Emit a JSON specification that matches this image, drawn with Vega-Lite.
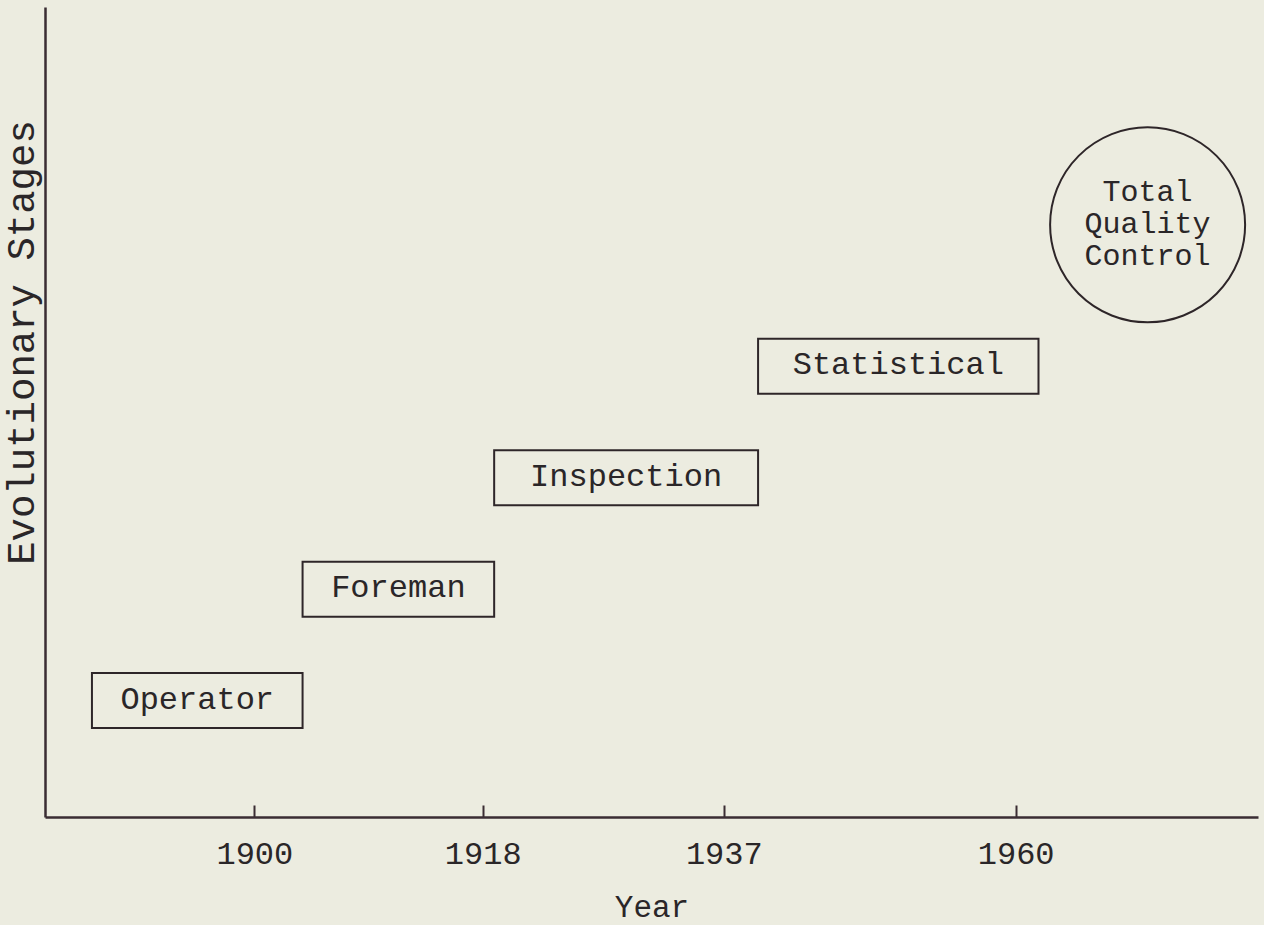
{
  "$schema": "https://vega.github.io/schema/vega-lite/v6.json",
  "width": 1213,
  "height": 810,
  "autosize": {"type": "none"},
  "padding": {"left": 45, "top": 7, "right": 6, "bottom": 108},
  "background": "#ecece0",
  "config": {
    "view": {"stroke": null},
    "font": "Liberation Mono",
    "axis": {"grid": false}
  },
  "data": {
    "values": [
      {"stage": "Operator", "start": 1887.2, "end": 1903.8, "mid": 1895.5, "level": 1},
      {"stage": "Foreman", "start": 1903.8, "end": 1918.9, "mid": 1911.35, "level": 2},
      {"stage": "Inspection", "start": 1918.9, "end": 1939.7, "mid": 1929.3, "level": 3},
      {"stage": "Statistical", "start": 1939.7, "end": 1961.8, "mid": 1950.75, "level": 4},
      {"stage": "Total Quality Control", "start": null, "end": null, "mid": 1970.4, "level": 5.27}
    ]
  },
  "layer": [
    {
      "transform": [{"filter": "isValid(datum.end)"}],
      "mark": {"type": "bar", "size": 55, "fill": "#ecece0", "stroke": "#2e2629", "strokeWidth": 2},
      "encoding": {
        "x": {
          "field": "start", "type": "quantitative", "title": "Year",
          "scale": {"domain": [1883.5, 1979.1], "nice": false, "zero": false},
          "axis": {
            "values": [1900, 1918, 1937, 1960], "format": "d",
            "domainColor": "#3a2d33", "domainWidth": 2.5,
            "tickColor": "#3a2d33", "tickWidth": 2, "tickSize": -12,
            "labelFont": "Liberation Mono", "labelFontSize": 32, "labelColor": "#2a2628",
            "labelPadding": 33, "labelFlush": false, "labelOverlap": false,
            "titleFont": "Liberation Mono", "titleFontSize": 31, "titleFontWeight": "normal",
            "titleColor": "#2a2628", "titleY": 75, "titleBaseline": "top"
          }
        },
        "x2": {"field": "end"},
        "y": {
          "field": "level", "type": "quantitative", "title": "Evolutionary Stages",
          "scale": {"domain": [0, 7.18], "nice": false, "zero": true},
          "axis": {
            "ticks": false, "labels": false,
            "domainColor": "#3a2d33", "domainWidth": 2.5,
            "titleFont": "Liberation Mono", "titleFontSize": 39, "titleFontWeight": "normal",
            "titleColor": "#2a2628", "titleAngle": -90, "titleX": -12, "titleY": 335,
            "titleAlign": "center", "titleBaseline": "alphabetic"
          }
        }
      }
    },
    {
      "transform": [{"filter": "!isValid(datum.end)"}],
      "mark": {"type": "point", "shape": "circle", "size": 38025, "filled": false, "stroke": "#2e2629", "strokeWidth": 2, "opacity": 1},
      "encoding": {
        "x": {"field": "mid", "type": "quantitative", "title": "Year"},
        "y": {"field": "level", "type": "quantitative", "title": "Evolutionary Stages"}
      }
    },
    {
      "transform": [{"filter": "isValid(datum.end)"}],
      "mark": {"type": "text", "font": "Liberation Mono", "fontSize": 32, "color": "#2a2628", "baseline": "middle", "align": "center", "dy": -2},
      "encoding": {
        "x": {"field": "mid", "type": "quantitative", "title": "Year"},
        "y": {"field": "level", "type": "quantitative", "title": "Evolutionary Stages"},
        "text": {"field": "stage"}
      }
    },
    {
      "transform": [{"filter": "!isValid(datum.end)"}],
      "mark": {"type": "text", "font": "Liberation Mono", "fontSize": 30, "color": "#2a2628", "lineBreak": " ", "lineHeight": 32, "baseline": "middle", "align": "center", "dy": -33},
      "encoding": {
        "x": {"field": "mid", "type": "quantitative", "title": "Year"},
        "y": {"field": "level", "type": "quantitative", "title": "Evolutionary Stages"},
        "text": {"field": "stage"}
      }
    }
  ]
}
